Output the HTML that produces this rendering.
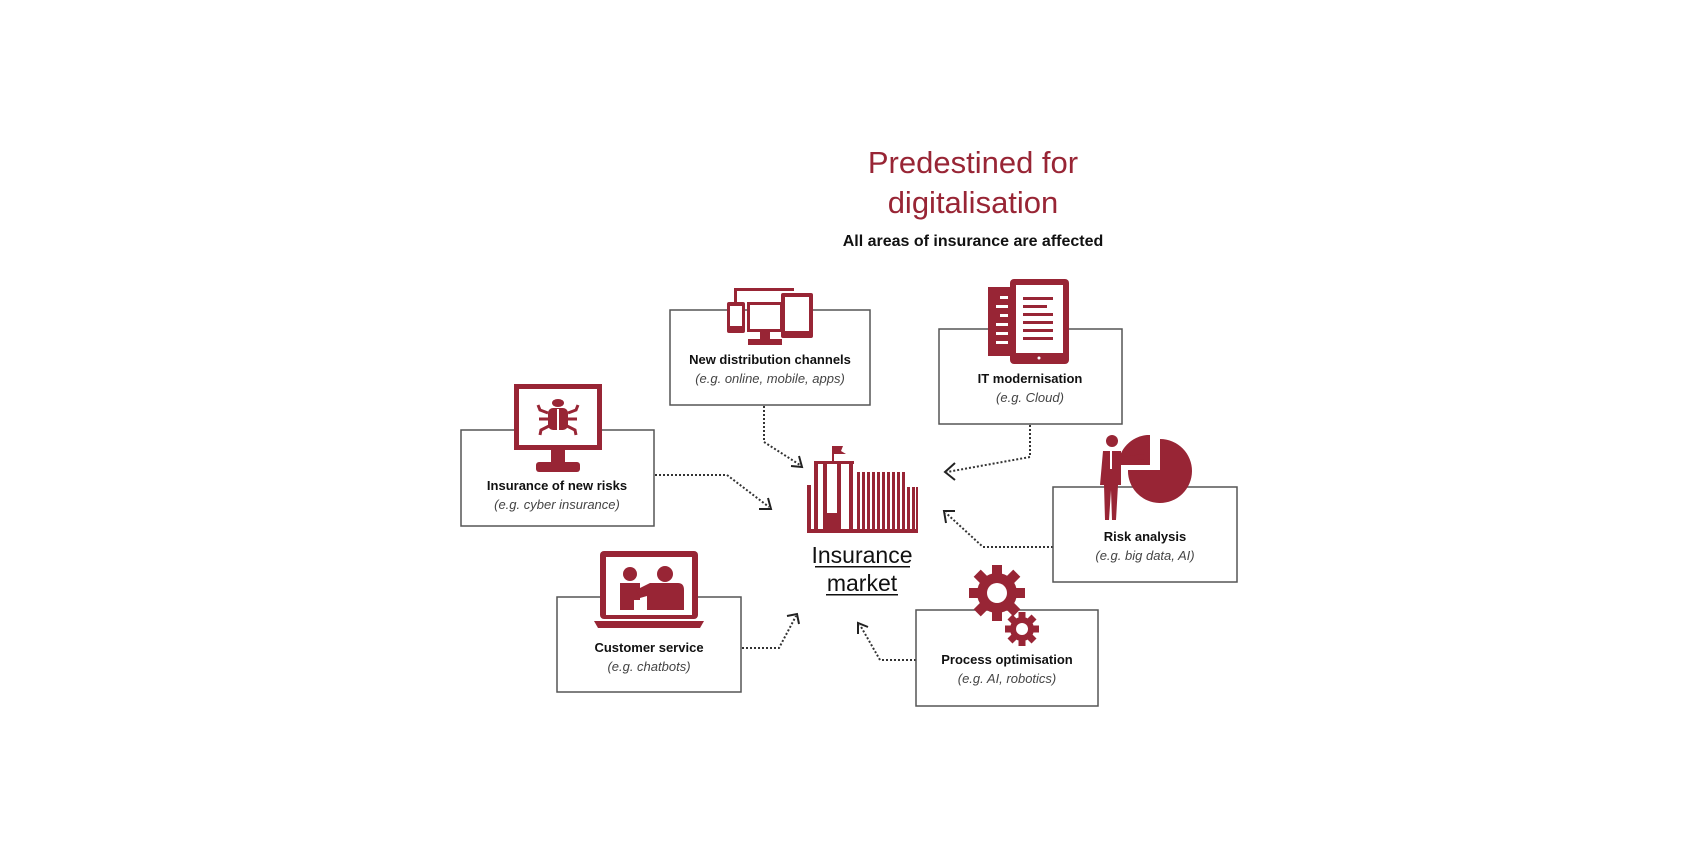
<!DOCTYPE html>
<html><head><meta charset="utf-8"><style>
html,body{margin:0;padding:0;background:#fff;}
svg{display:block;}
text{font-family:"Liberation Sans",sans-serif;}
.b{font-weight:bold;font-size:13px;fill:#111;text-anchor:middle;}
.i{font-style:italic;font-size:13px;fill:#444;text-anchor:middle;}
.box{fill:#fff;stroke:#555;stroke-width:1.5;}
.dot{fill:none;stroke:#333;stroke-width:2;stroke-dasharray:2 2;}
.ah{fill:none;stroke:#222;stroke-width:2;}
.r{fill:#982535;}
</style></head><body>
<svg width="1700" height="850" viewBox="0 0 1700 850">
<text x="973" y="173" text-anchor="middle" font-size="31" fill="#982535">Predestined for</text>
<text x="973" y="213" text-anchor="middle" font-size="31" fill="#982535">digitalisation</text>
<text x="973" y="246" text-anchor="middle" font-size="16" font-weight="bold" fill="#111">All areas of insurance are affected</text>

<!-- connectors -->
<polyline class="dot" points="764,406 764,442 800,465"/>
<polyline class="ah" points="791,466 802,467 799,456"/>
<polyline class="dot" points="655,475 727,475 769,507"/>
<polyline class="ah" points="759,509 771,509 768,498"/>
<polyline class="dot" points="1030,425 1030,457 947,472"/>
<polyline class="ah" points="955,463 945,472 955,480"/>
<polyline class="dot" points="1053,547 983,547 946,513"/>
<polyline class="ah" points="946,523 944,511 955,511"/>
<polyline class="dot" points="916,660 880,660 860,625"/>
<polyline class="ah" points="858,634 858,623 868,627"/>
<polyline class="dot" points="742,648 779,648 796,616"/>
<polyline class="ah" points="787,616 797,614 799,624"/>

<!-- boxes -->
<rect class="box" x="670" y="310" width="200" height="95"/>
<rect class="box" x="939" y="329" width="183" height="95"/>
<rect class="box" x="461" y="430" width="193" height="96"/>
<rect class="box" x="1053" y="487" width="184" height="95"/>
<rect class="box" x="557" y="597" width="184" height="95"/>
<rect class="box" x="916" y="610" width="182" height="96"/>

<text class="b" x="770" y="364">New distribution channels</text>
<text class="i" x="770" y="383">(e.g. online, mobile, apps)</text>
<text class="b" x="1030" y="383">IT modernisation</text>
<text class="i" x="1030" y="402">(e.g. Cloud)</text>
<text class="b" x="557" y="490">Insurance of new risks</text>
<text class="i" x="557" y="509">(e.g. cyber insurance)</text>
<text class="b" x="1145" y="541">Risk analysis</text>
<text class="i" x="1145" y="560">(e.g. big data, AI)</text>
<text class="b" x="649" y="652">Customer service</text>
<text class="i" x="649" y="671">(e.g. chatbots)</text>
<text class="b" x="1007" y="664">Process optimisation</text>
<text class="i" x="1007" y="683">(e.g. AI, robotics)</text>

<!-- devices icon -->
<rect x="734" y="288" width="60" height="3" class="r"/>
<rect x="734" y="288" width="3" height="14" class="r"/>
<rect x="747" y="302" width="36" height="30" class="r"/>
<rect x="750" y="305" width="30" height="24" fill="#fff"/>
<rect x="760" y="332" width="10" height="8" class="r"/>
<rect x="748" y="339" width="34" height="6" class="r"/>
<rect x="727" y="302" width="18" height="31" rx="2" class="r"/>
<rect x="730" y="306" width="12" height="20" fill="#fff"/>
<rect x="781" y="293" width="32" height="45" rx="2" class="r"/>
<rect x="785" y="297" width="24" height="34" fill="#fff"/>

<!-- tablet IT icon -->
<rect x="988" y="287" width="22" height="69" class="r"/>
<g fill="#fff"><rect x="1000" y="296" width="8" height="3"/><rect x="996" y="305" width="12" height="3"/><rect x="1000" y="314" width="8" height="3"/><rect x="996" y="323" width="12" height="3"/><rect x="996" y="332" width="12" height="3"/><rect x="996" y="341" width="12" height="3"/></g>
<rect x="1010" y="279" width="59" height="85" rx="4" class="r"/>
<rect x="1016" y="285" width="47" height="68" fill="#fff"/>
<g class="r"><rect x="1023" y="297" width="30" height="3"/><rect x="1023" y="305" width="24" height="3"/><rect x="1023" y="313" width="30" height="3"/><rect x="1023" y="321" width="30" height="3"/><rect x="1023" y="329" width="30" height="3"/><rect x="1023" y="337" width="30" height="3"/></g>
<circle cx="1039" cy="358" r="1.5" fill="#fff"/>

<!-- bug monitor -->
<rect x="514" y="384" width="88" height="66" class="r"/>
<rect x="519" y="389" width="78" height="56" fill="#fff"/>
<rect x="551" y="450" width="14" height="14" class="r"/>
<rect x="536" y="462" width="44" height="10" rx="3" class="r"/>
<ellipse cx="558" cy="403" rx="6" ry="4" class="r"/>
<rect x="548" y="408" width="20" height="22" rx="5" class="r"/>
<rect x="557" y="409" width="2" height="21" fill="#fff"/>
<g stroke="#982535" stroke-width="3" fill="none"><path d="M548 413 L540 410 L538 405"/><path d="M568 413 L576 410 L578 405"/><path d="M548 419 L539 419"/><path d="M568 419 L577 419"/><path d="M549 426 L541 430 L540 435"/><path d="M567 426 L575 430 L576 435"/></g>

<!-- building -->
<g class="r">
<rect x="832" y="446" width="2" height="16"/><path d="M834 446 L843 446 L841 451 L846 454 L834 454Z"/>
<rect x="814" y="461" width="40" height="3"/>
<rect x="814" y="461" width="4" height="72"/><rect x="823" y="461" width="4" height="72"/><rect x="837" y="461" width="4" height="72"/><rect x="849" y="461" width="4" height="72"/>
<rect x="807" y="485" width="4" height="48"/><rect x="827" y="513" width="10" height="20"/>
<rect x="807" y="529" width="111" height="4"/>
<rect x="857" y="472" width="3" height="61"/><rect x="862" y="472" width="3" height="61"/><rect x="867" y="472" width="3" height="61"/><rect x="872" y="472" width="3" height="61"/><rect x="877" y="472" width="3" height="61"/><rect x="882" y="472" width="3" height="61"/><rect x="887" y="472" width="3" height="61"/><rect x="892" y="472" width="3" height="61"/><rect x="897" y="472" width="3" height="61"/><rect x="902" y="472" width="3" height="61"/><rect x="907" y="487" width="3" height="46"/><rect x="912" y="487" width="3" height="46"/><rect x="916" y="487" width="2" height="46"/>
</g>
<text x="862" y="563" text-anchor="middle" font-size="23" fill="#111">Insurance</text>
<rect x="815" y="566" width="95" height="1.5" fill="#111"/>
<text x="862" y="591" text-anchor="middle" font-size="23" fill="#111">market</text>
<rect x="826" y="594" width="72" height="1.5" fill="#111"/>

<!-- person + pie -->
<path class="r" d="M1158 468 L1158 437 A32 32 0 1 1 1126 468 Z" transform="translate(2,2)"/>
<path class="r" d="M1153 466 L1153 436 L1150 436 A32 32 0 0 0 1121 466Z" transform="translate(-3,-1)"/>
<circle cx="1112" cy="441" r="6" class="r"/>
<path class="r" d="M1103 451 L1121 451 L1121 457 L1144 454 L1144 459 L1121 463 L1121 485 L1118 485 L1116 520 L1112 520 L1111 490 L1109 520 L1105 520 L1104 485 L1100 485 Z"/>
<rect x="1110" y="451" width="2" height="18" fill="#fff"/>

<!-- laptop -->
<rect x="600" y="551" width="98" height="68" rx="4" class="r"/>
<rect x="606" y="557" width="86" height="58" fill="#fff"/>
<path class="r" d="M594 621 L704 621 L700 628 L598 628Z"/>
<circle cx="630" cy="574" r="7" class="r"/>
<circle cx="665" cy="574" r="8" class="r"/>
<path class="r" d="M620 583 L640 583 L640 600 L634 600 L634 610 L620 610Z"/>
<path class="r" d="M636 590 L650 583 L678 583 Q684 583 684 590 L684 610 L647 610 L647 596 L640 598Z"/>

<!-- gears -->
<g class="r">
<circle cx="997" cy="593" r="20"/>
<g transform="translate(997,593)"><rect x="-5" y="-28" width="10" height="56"/><rect x="-5" y="-28" width="10" height="56" transform="rotate(45)"/><rect x="-5" y="-28" width="10" height="56" transform="rotate(90)"/><rect x="-5" y="-28" width="10" height="56" transform="rotate(135)"/></g>
<circle cx="1022" cy="629" r="12"/>
<g transform="translate(1022,629)"><rect x="-3.5" y="-17" width="7" height="34"/><rect x="-3.5" y="-17" width="7" height="34" transform="rotate(45)"/><rect x="-3.5" y="-17" width="7" height="34" transform="rotate(90)"/><rect x="-3.5" y="-17" width="7" height="34" transform="rotate(135)"/></g>
</g>
<circle cx="997" cy="593" r="10" fill="#fff"/>
<circle cx="1022" cy="629" r="6" fill="#fff"/>
</svg>
</body></html>
